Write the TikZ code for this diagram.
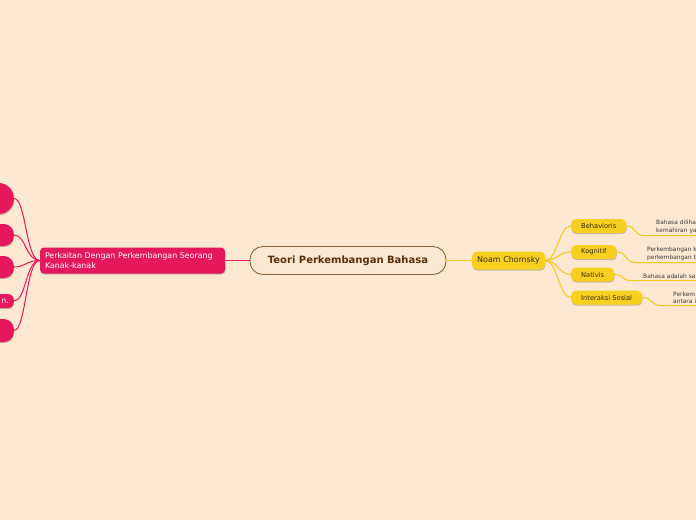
\documentclass[tikz,border=0pt]{standalone}
\usepackage{fontspec}
\setmainfont{DejaVu Sans}
\usetikzlibrary{shadows}

\begin{document}
\begin{tikzpicture}[x=1pt, y=-1pt, line cap=round,
  softshadow/.style={drop shadow={shadow xshift=0.4pt, shadow yshift=-1.2pt, opacity=0.22, fill=black}},
  rootbox/.style={draw=mbrown, line width=0.9pt, fill=rootfill, rounded corners=13pt,
    minimum width=196pt, minimum height=28pt, text=tbrown, font=\fontsize{10}{12}\selectfont\bfseries},
  topicbox/.style={fill=mpink, rounded corners=4pt, softshadow, text=white, text width=175pt,
    align=left, inner xsep=5pt, minimum height=26pt, font=\fontsize{7.9}{9.6}\selectfont},
  pinkkid/.style={fill=mpink, softshadow, text=white, minimum width=74pt, text width=64pt,
    align=right, inner xsep=4pt, font=\fontsize{7.9}{9}\selectfont},
  yellowbox/.style={fill=myellow, rounded corners=5pt, softshadow, text=tdark, font=\fontsize{8}{9.5}\selectfont},
  kidbox/.style={fill=myellow, rounded corners=5pt, softshadow, text=tdark, inner xsep=10pt,
    minimum height=14pt, font=\fontsize{6.7}{8}\selectfont},
  leaf/.style={text=tgray, text width=80pt, align=left, inner xsep=0pt, inner ysep=2pt,
    font=\fontsize{5.9}{7.2}\selectfont},
  pinkline/.style={draw=mpink, line width=1pt},
  yline/.style={draw=lyellow, line width=1pt}]
  \definecolor{bgpeach}{HTML}{FEE8D1}
  \definecolor{rootfill}{HTML}{FDE9D3}
  \definecolor{mbrown}{HTML}{8E6038}
  \definecolor{tbrown}{HTML}{5A2D0C}
  \definecolor{mpink}{HTML}{E5185C}
  \definecolor{myellow}{HTML}{F8D01F}
  \definecolor{lyellow}{HTML}{F6C91A}
  \definecolor{tdark}{HTML}{3A2A10}
  \definecolor{tgray}{HTML}{3C3C3C}
  \path[use as bounding box] (0,0) rectangle (696,520);
  \clip (0,0) rectangle (696,520);
  \fill[bgpeach] (0,0) rectangle (696,520);
  % centre and the two main branches
  \node[rootbox] (root) at (348,260.5) {Teori Perkembangan Bahasa};
  \node[topicbox] (topic) at (132.5,260.5) {Perkaitan Dengan Perkembangan Seorang\\Kanak-kanak};
  \node[yellowbox, minimum width=73pt, minimum height=18pt] (noam) at (508.5,260.5) {Noam Chomsky};
  \draw[pinkline] (root.west) -- (topic.east);
  \draw[yline] (root.east) -- (noam.west);
  % left children, cut by the edge
  \foreach \i/\y/\h/\r/\t in {1/198.5/31/15/{}, 2/235/22/10/{}, 3/267/22/10/{}, 4/301/14/6/{n.}, 5/330.5/23/10/{}}{
    \node[pinkkid, minimum height=\h pt, rounded corners=\r pt, anchor=east] (lk\i) at (14,\y) {\t};
    \draw[pinkline] (topic.west) .. controls +(-14,0) and +(12,0) .. (lk\i.east);
  }
  % right children with their notes
  \foreach \n/\y/\t/\lx/\ly/\txt in {beh/226/Behavioris/656/235.5/{Bahasa diliha\\kemahiran ya},
      kog/252/Kognitif/647/262.5/{Perkembangan k\\perkembangan b},
      nat/274.5/Nativis/643/280.5/{Bahasa adalah sa},
      int/297.5/Interaksi Sosial/673/305.5/{Perkem\\antara i}}{
    \node[kidbox, anchor=west] (\n) at (571,\y) {\t};
    \draw[yline] (noam.east) .. controls +(12,0) and +(-12,0) .. (\n.west);
    \node[leaf, anchor=south west] (\n txt) at (\lx,\ly) {\txt};
    \draw[yline] (\n.east) .. controls +(10,0) and +(-10,0) .. ([xshift=-12pt]\n txt.south west) -- (\n txt.south east);
  }
\end{tikzpicture}
\end{document}
